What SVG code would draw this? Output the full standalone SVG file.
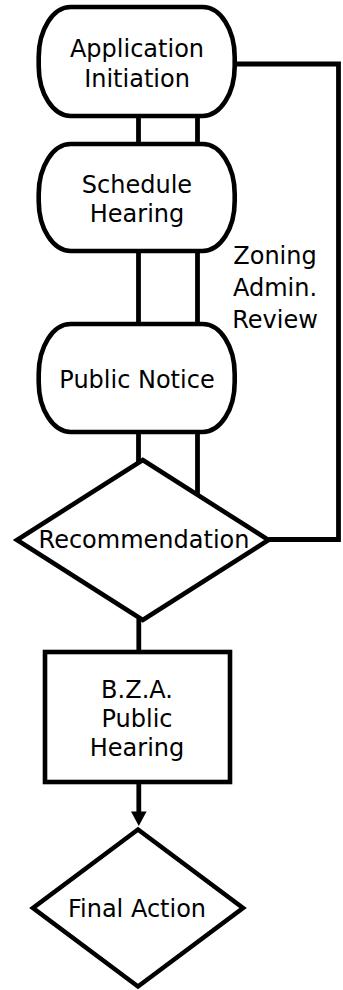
<svg xmlns="http://www.w3.org/2000/svg" width="343" height="990" viewBox="0 0 343 990">
<defs>
<style>
.shape{fill:#fff;stroke:#000;stroke-width:4.6;stroke-linejoin:miter}
.conn{fill:none;stroke:#000;stroke-width:4.8;stroke-linejoin:miter;stroke-linecap:butt}
.lbl{font-family:"DejaVu Sans","Liberation Sans",sans-serif;font-size:24px;fill:#000;text-anchor:middle}
</style>
</defs>
<rect width="343" height="990" fill="#fff"/>
<g id="connectors">
<line class="conn" x1="138.5" y1="116" x2="138.5" y2="464"/>
<line class="conn" x1="197.5" y1="116" x2="197.5" y2="496"/>
<polyline class="conn" points="234.5,64 338.5,64 338.5,539.5 268.5,539.5"/>
<line class="conn" x1="138.8" y1="619" x2="138.8" y2="652"/>
<line class="conn" x1="138.8" y1="782" x2="138.8" y2="813"/>
<polygon points="131,811.5 146.6,811.5 138.8,826" fill="#000"/>
<text class="lbl" x="275" y="263.5">Zoning</text>
<text class="lbl" x="275" y="295.5">Admin.</text>
<text class="lbl" x="275" y="327.5">Review</text>
</g>
<g id="application-initiation">
<rect class="shape" x="38.7" y="7" width="196" height="109" rx="32" ry="50"/>
<text class="lbl" x="137" y="57">Application</text>
<text class="lbl" x="137" y="87">Initiation</text>
</g>
<g id="schedule-hearing">
<rect class="shape" x="38.7" y="144" width="196" height="107" rx="32" ry="50"/>
<text class="lbl" x="137" y="193">Schedule</text>
<text class="lbl" x="137" y="222">Hearing</text>
</g>
<g id="public-notice">
<rect class="shape" x="38.7" y="324" width="196" height="108" rx="32" ry="50"/>
<text class="lbl" x="137" y="387.5">Public Notice</text>
</g>
<g id="recommendation">
<polygon class="shape" points="142.75,460 268.5,540 142.75,620 17,540"/>
<text class="lbl" x="144" y="548">Recommendation</text>
</g>
<g id="bza-public-hearing">
<rect class="shape" x="45" y="652" width="185" height="130"/>
<text class="lbl" x="137" y="698">B.Z.A.</text>
<text class="lbl" x="137" y="727">Public</text>
<text class="lbl" x="137" y="756">Hearing</text>
</g>
<g id="final-action">
<polygon class="shape" points="138,829.5 243,908 138,986.5 33,908"/>
<text class="lbl" x="137" y="916.5">Final Action</text>
</g>
</svg>
